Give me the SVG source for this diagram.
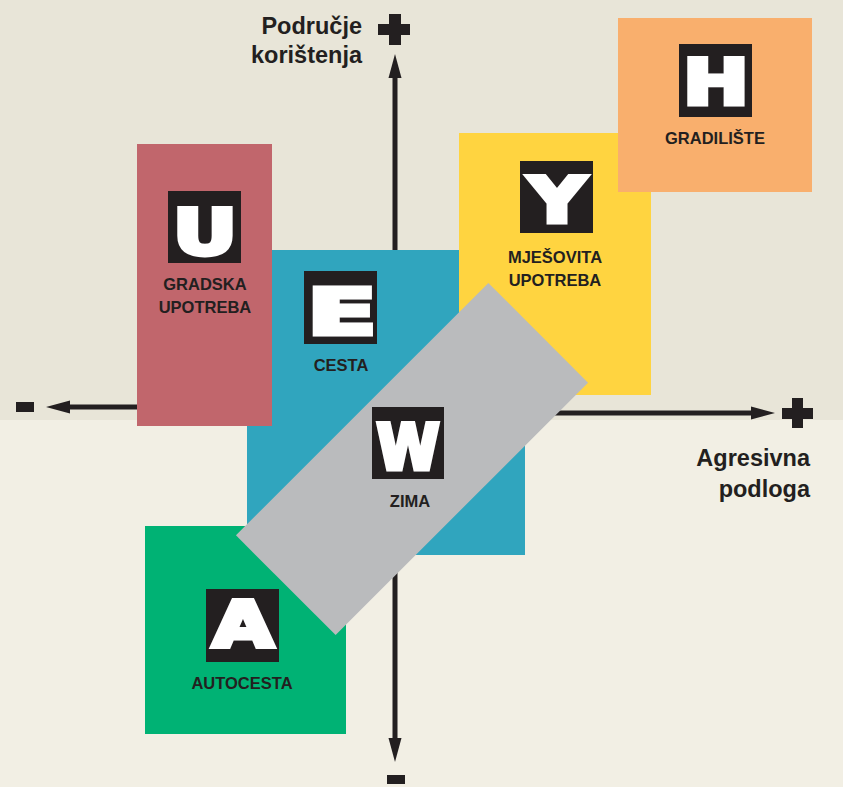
<svg xmlns="http://www.w3.org/2000/svg" width="843" height="787" viewBox="0 0 843 787">
<defs>
<style>
.axis{stroke:#231F20;stroke-width:5;fill:none}
.head{fill:#231F20}
.sign{fill:#231F20}
.axlabel{font-family:"Liberation Sans",Arial,sans-serif;font-weight:bold;font-size:23.5px;fill:#231F20;text-anchor:end}
.lbl{font-family:"Liberation Sans",Arial,sans-serif;font-weight:bold;font-size:16.5px;fill:#231F20;text-anchor:middle}
.icon{fill:#231F20}
.let{font-family:"DejaVu Sans",sans-serif;font-weight:bold;font-size:63px;fill:#FFFFFF;stroke:#FFFFFF;stroke-width:5;stroke-linejoin:miter;text-anchor:middle}
</style>
</defs>
<rect x="0" y="0" width="843" height="420" fill="#E8E5D8"/>
<rect x="0" y="420" width="843" height="367" fill="#F2EFE4"/>

<g id="connectors">
  <line class="axis" x1="395" y1="74" x2="395" y2="252"/>
  <polygon class="head" points="395,54 388.5,78 401.5,78"/>
  <line class="axis" x1="395" y1="550" x2="395" y2="742"/>
  <polygon class="head" points="395,762 388.5,738 401.5,738"/>
  <line class="axis" x1="66" y1="407" x2="140" y2="407"/>
  <polygon class="head" points="46,407 70,400.5 70,413.5"/>
  <line class="axis" x1="540" y1="413" x2="754" y2="413"/>
  <polygon class="head" points="775,413 751,406.5 751,419.5"/>
</g>

<g id="axis-signs">
  <rect class="sign" x="389" y="14" width="12" height="31"/>
  <rect class="sign" x="378" y="24" width="32" height="11"/>
  <rect class="sign" x="792" y="398" width="11" height="30"/>
  <rect class="sign" x="782" y="408" width="31" height="11"/>
  <rect class="sign" x="16" y="402" width="18" height="10"/>
  <rect class="sign" x="387" y="775" width="18" height="9"/>
</g>

<g id="axis-labels">
  <text class="axlabel" x="362" y="34">Područje</text>
  <text class="axlabel" x="362" y="63">korištenja</text>
  <text class="axlabel" x="810" y="466">Agresivna</text>
  <text class="axlabel" x="810" y="497">podloga</text>
</g>

<g id="node-cesta">
  <rect x="247" y="250" width="278" height="305" fill="#30A5BE"/>
  <rect class="icon" x="304" y="271" width="73" height="73"/>
  <text class="let" transform="translate(342 334) scale(1.6 1)">E</text>
  <text class="lbl" x="341" y="371">CESTA</text>
</g>

<g id="node-gradska">
  <rect x="137" y="144" width="135" height="282" fill="#C1666C"/>
  <rect class="icon" x="168" y="191" width="73" height="72"/>
  <text class="let" transform="translate(205 254) scale(1.24 1)">U</text>
  <text class="lbl" x="205" y="290">GRADSKA</text>
  <text class="lbl" x="205" y="313">UPOTREBA</text>
</g>

<g id="node-mjesovita">
  <rect x="459" y="133" width="192" height="262" fill="#FFD440"/>
  <rect class="icon" x="520" y="161" width="73" height="72"/>
  <text class="let" transform="translate(557 222) scale(1.24 1)">Y</text>
  <text class="lbl" x="555" y="263">MJEŠOVITA</text>
  <text class="lbl" x="555" y="286">UPOTREBA</text>
</g>

<g id="node-gradiliste">
  <rect x="618" y="18" width="194" height="174" fill="#F9AF6D"/>
  <rect class="icon" x="679" y="44" width="73" height="73"/>
  <text class="let" transform="translate(716 103.5) scale(1.24 1)">H</text>
  <text class="lbl" x="715" y="144">GRADILIŠTE</text>
</g>

<g id="node-autocesta">
  <rect x="145" y="526" width="201" height="208" fill="#00B274"/>
  <rect class="icon" x="206" y="589" width="73" height="73"/>
  <text class="let" transform="translate(243 645.5) scale(1.24 1)">A</text>
  <text class="lbl" x="242" y="689">AUTOCESTA</text>
</g>

<g id="node-zima">
  <rect x="-178.5" y="-70.5" width="357" height="141" fill="#BABBBD" transform="translate(412 459) rotate(-45)"/>
  <rect class="icon" x="372" y="407" width="72" height="72"/>
  <text class="let" transform="translate(408 468.5) scale(0.9 1)">W</text>
  <text class="lbl" x="410" y="507">ZIMA</text>
</g>
</svg>
